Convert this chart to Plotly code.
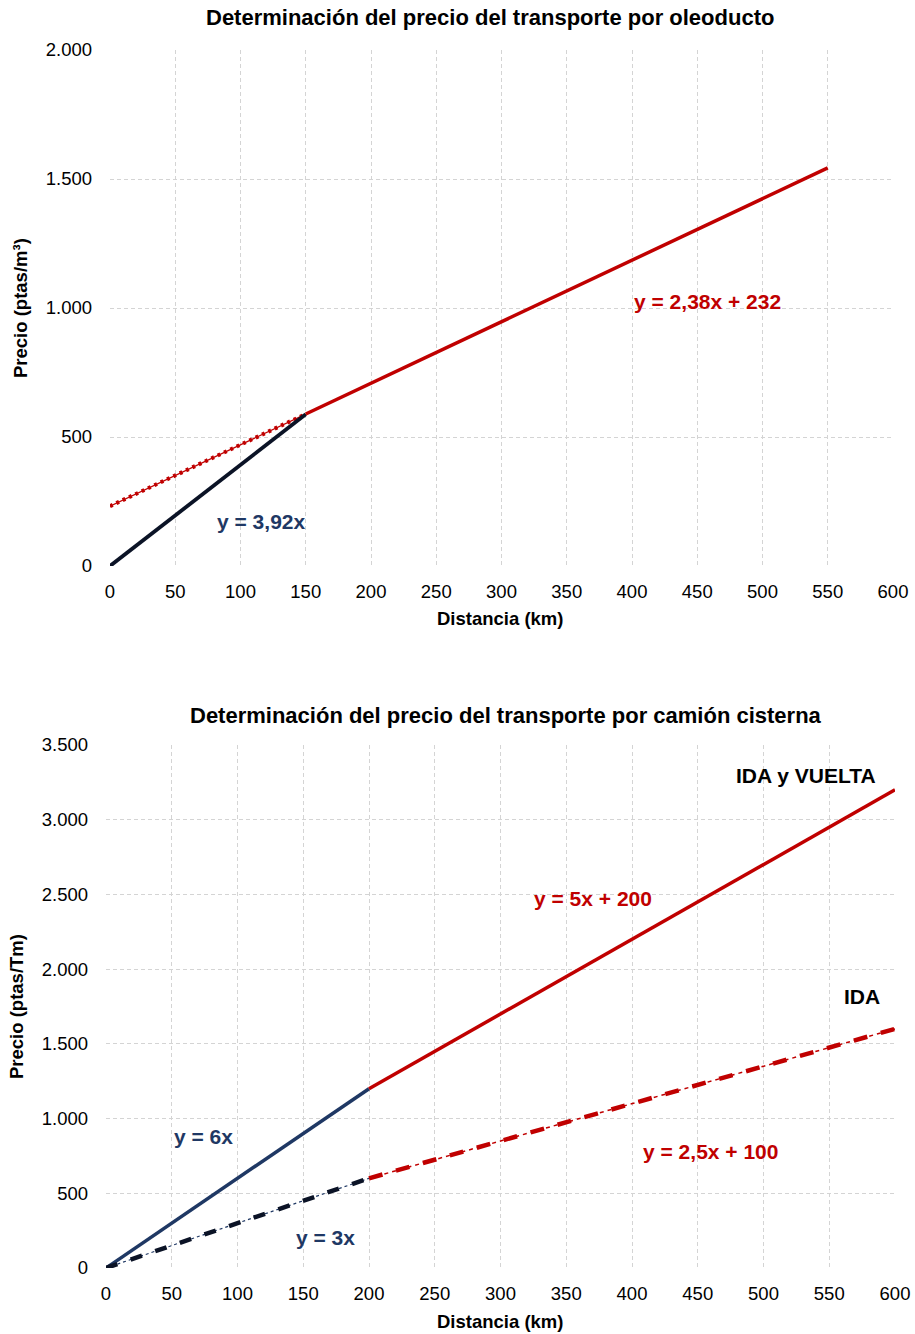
import plotly.graph_objects as go

# ---- Data: oleoducto (top chart) ----
ole_lin_x = [0, 150]          # y = 3,92x
ole_lin_y = [0, 588]
ole_ext_x = [0, 150]          # y = 2,38x + 232 (extension, dotted)
ole_ext_y = [232, 589]
ole_main_x = [150, 550]       # y = 2,38x + 232
ole_main_y = [589, 1543]

# ---- Data: camión cisterna (bottom chart) ----
cam_iv_a_x = [0, 200]         # y = 6x
cam_iv_a_y = [0, 1200]
cam_iv_b_x = [200, 600]       # y = 5x + 200
cam_iv_b_y = [1200, 3200]
cam_ida_a_x = [0, 200]        # y = 3x
cam_ida_a_y = [0, 600]
cam_ida_b_x = [200, 600]      # y = 2,5x + 100
cam_ida_b_y = [600, 1600]

x_ticks = [0, 50, 100, 150, 200, 250, 300, 350, 400, 450, 500, 550, 600]
y1_ticks = [0, 500, 1000, 1500, 2000]
y1_labels = ["0", "500", "1.000", "1.500", "2.000"]
y2_ticks = [0, 500, 1000, 1500, 2000, 2500, 3000, 3500]
y2_labels = ["0", "500", "1.000", "1.500", "2.000", "2.500", "3.000", "3.500"]

RED = "#C00000"
NAVY = "#1F3864"
BLK = "#0b1326"
FONT = "Liberation Sans, Arial, sans-serif"
TICK = 18.5
ATTL = 18.5
ANN = 21
TTL = 22

fig = go.Figure()

# top chart
fig.add_trace(go.Scatter(x=ole_ext_x, y=ole_ext_y, mode="lines",
                         line=dict(color=RED, width=1.3), xaxis="x", yaxis="y"))
fig.add_trace(go.Scatter(x=ole_ext_x, y=ole_ext_y, mode="lines",
                         line=dict(color=RED, width=4, dash="3px,4px"), xaxis="x", yaxis="y"))
fig.add_trace(go.Scatter(x=ole_lin_x, y=ole_lin_y, mode="lines",
                         line=dict(color=BLK, width=3.8), xaxis="x", yaxis="y"))
fig.add_trace(go.Scatter(x=ole_main_x, y=ole_main_y, mode="lines",
                         line=dict(color=RED, width=3.5), xaxis="x", yaxis="y"))

# bottom chart
fig.add_trace(go.Scatter(x=cam_iv_a_x, y=cam_iv_a_y, mode="lines",
                         line=dict(color=NAVY, width=3.5), xaxis="x2", yaxis="y2"))
fig.add_trace(go.Scatter(x=cam_iv_b_x, y=cam_iv_b_y, mode="lines",
                         line=dict(color=RED, width=3.5), xaxis="x2", yaxis="y2"))
fig.add_trace(go.Scatter(x=cam_ida_a_x, y=cam_ida_a_y, mode="lines",
                         line=dict(color=NAVY, width=1.2, dash="3px,3px"), xaxis="x2", yaxis="y2"))
fig.add_trace(go.Scatter(x=cam_ida_a_x, y=cam_ida_a_y, mode="lines",
                         line=dict(color=BLK, width=4.5, dash="12px,14px"), xaxis="x2", yaxis="y2"))
fig.add_trace(go.Scatter(x=cam_ida_b_x, y=cam_ida_b_y, mode="lines",
                         line=dict(color=RED, width=1.5, dash="4px,4px"), xaxis="x2", yaxis="y2"))
fig.add_trace(go.Scatter(x=cam_ida_b_x, y=cam_ida_b_y, mode="lines",
                         line=dict(color=RED, width=4.5, dash="14px,14px"), xaxis="x2", yaxis="y2"))

W, H = 915, 1334
def px_x(p): return p / W
def px_y(p): return 1 - p / H

grid = dict(showgrid=True, gridcolor="#d4d4d4", griddash="4px,3px", gridwidth=1,
            zeroline=False, showline=False, ticks="", color="#000", automargin=False,
            tickfont=dict(family=FONT, size=TICK, color="#000"))

fig.update_layout(
    width=W, height=H, margin=dict(l=0, r=0, t=0, b=0, autoexpand=False),
    paper_bgcolor="white", plot_bgcolor="white", showlegend=False,
    font=dict(family=FONT, color="#000"),
    xaxis=dict(domain=[px_x(110), px_x(893)], anchor="y", range=[0, 600],
               tickvals=x_ticks, ticktext=[str(v) for v in x_ticks],
               ticklabelstandoff=12, **grid),
    yaxis=dict(domain=[px_y(566), px_y(50)], anchor="x", range=[0, 2000],
               tickvals=y1_ticks, ticktext=y1_labels,
               ticklabelstandoff=17, **grid),
    xaxis2=dict(domain=[px_x(106), px_x(895)], anchor="y2", range=[0, 600],
                tickvals=x_ticks, ticktext=[str(v) for v in x_ticks],
                ticklabelstandoff=12, **grid),
    yaxis2=dict(domain=[px_y(1268), px_y(745)], anchor="x2", range=[0, 3500],
                tickvals=y2_ticks, ticktext=y2_labels,
                ticklabelstandoff=17, **grid),
)

def paper_text(text, xp, yp, size, angle=0):
    fig.add_annotation(text=f"<b>{text}</b>", x=px_x(xp), y=px_y(yp), xref="paper", yref="paper",
                       xanchor="center", yanchor="middle",
                       showarrow=False, textangle=angle,
                       font=dict(family=FONT, size=size, color="#000"))

def ann(text, x, y, color, xref="x", yref="y", size=ANN):
    fig.add_annotation(text=f"<b>{text}</b>", x=x, y=y, xref=xref, yref=yref,
                       xanchor="center", yanchor="middle",
                       showarrow=False, font=dict(family=FONT, size=size, color=color))

# titles
paper_text("Determinación del precio del transporte por oleoducto", 490, 18, TTL)
paper_text("Determinación del precio del transporte por camión cisterna", 506, 715, TTL)
# axis titles
paper_text("Distancia (km)", 500, 619, ATTL)
paper_text("Distancia (km)", 500, 1321, ATTL)
paper_text("Precio (ptas/m³)", 20, 308, ATTL, -90)
paper_text("Precio (ptas/Tm)", 16, 1007, ATTL, -90)

ann("y = 2,38x + 232", 458, 1027, RED)
ann("y = 3,92x", 116, 174, NAVY)
ann("IDA y VUELTA", 532, 3293, "#000", "x2", "y2")
ann("y = 5x + 200", 370, 2476, RED, "x2", "y2")
ann("IDA", 575, 1814, "#000", "x2", "y2")
ann("y = 6x", 74, 877, NAVY, "x2", "y2")
ann("y = 2,5x + 100", 460, 783, RED, "x2", "y2")
ann("y = 3x", 167, 201, NAVY, "x2", "y2")

fig.write_html("out.html", config={"displayModeBar": False},
               post_script="document.body.style.margin='0';document.body.style.padding='0';")
